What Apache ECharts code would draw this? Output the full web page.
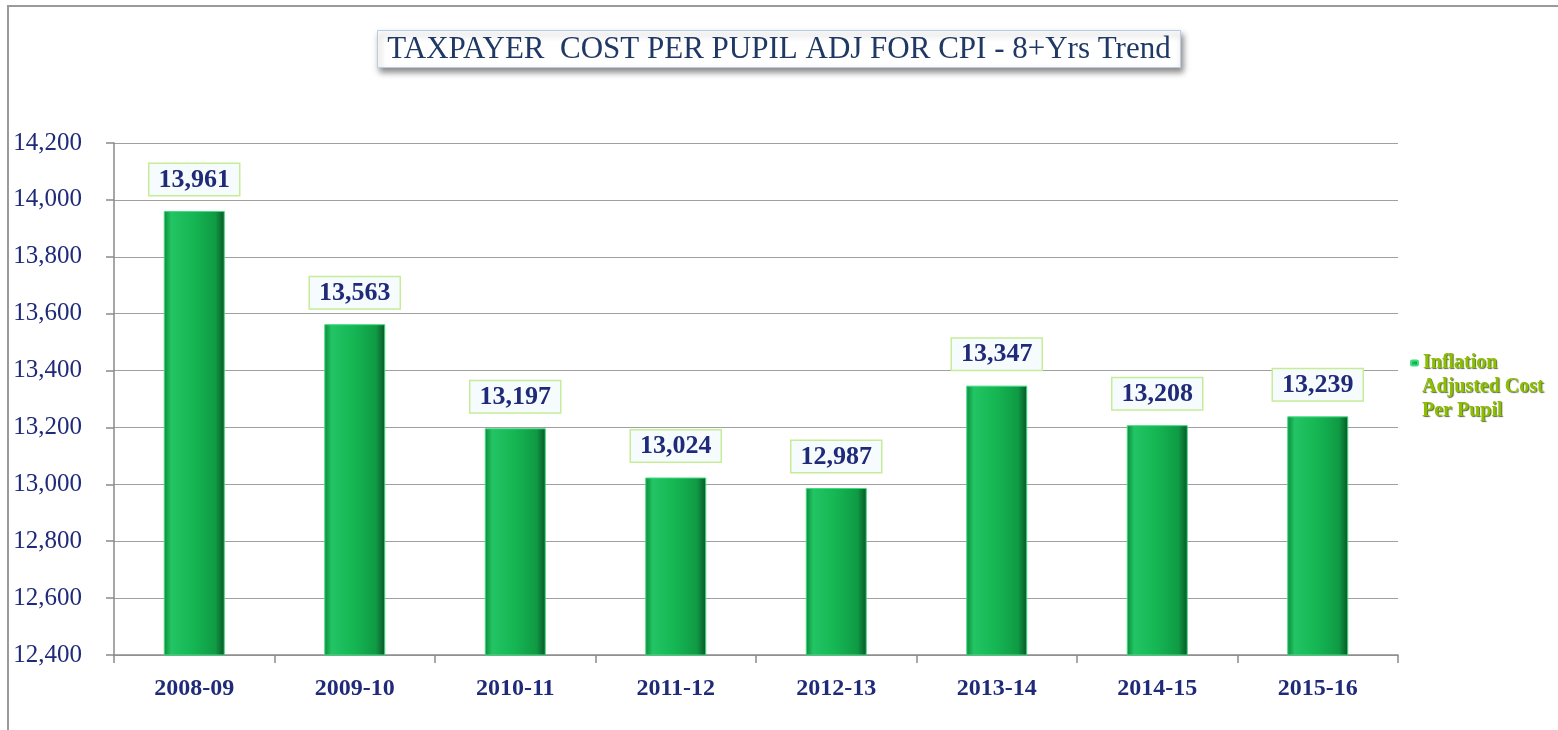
<!DOCTYPE html>
<html lang="en">
<head>
    <meta charset="UTF-8">
    <title>Taxpayer cost per pupil</title>
    <script type="text/javascript" src="https://cdn.jsdelivr.net/npm/echarts@6.0.0/dist/echarts.min.js"></script>
    <style>
        html, body { margin: 0; padding: 0; background: #fff; }
    </style>
</head>
<body>
<div id="main" style="width: 1558px;height:730px;"></div>

<script type="text/javascript">
    // data
    var years = ['2008-09', '2009-10', '2010-11', '2011-12', '2012-13', '2013-14', '2014-15', '2015-16'];
    var costPerPupil = [13961, 13563, 13197, 13024, 12987, 13347, 13208, 13239];
    var seriesName = 'Inflation Adjusted Cost Per Pupil';

    var navy = '#1f2a78';
    var serif = '"Liberation Serif", "DejaVu Serif", serif';
    var legendGreen = '#8cbf00';
    var legendShadow = 'rgba(40,60,0,0.75)';

    var myChart = echarts.init(document.getElementById('main'));

    var option = {
        backgroundColor: '#fff',
        animation: false,
        graphic: [{
            // outer frame, only top and left edges show
            type: 'rect',
            shape: {x: 8, y: 6, width: 1600, height: 800},
            style: {fill: 'none', stroke: '#9a9a9a', lineWidth: 2}
        }, {
            // rest of the legend label, icon sits on the first line
            type: 'text',
            left: 1422,
            top: 375,
            style: {
                text: 'Adjusted Cost\nPer Pupil',
                fill: legendGreen,
                font: 'bold 20px ' + serif,
                lineHeight: 24,
                textShadowColor: legendShadow,
                textShadowBlur: 1,
                textShadowOffsetX: 1,
                textShadowOffsetY: 1
            }
        }],
        title: {
            text: 'TAXPAYER  COST PER PUPIL ADJ FOR CPI - 8+Yrs Trend',
            left: 'center',
            top: 30,
            padding: [4, 10, 3, 10],
            backgroundColor: '#fff',
            borderColor: '#b8cce4',
            borderWidth: 1,
            shadowColor: 'rgba(0,0,0,0.45)',
            shadowBlur: 6,
            shadowOffsetX: 2,
            shadowOffsetY: 4,
            textStyle: {
                fontFamily: serif,
                fontSize: 31,
                fontWeight: 'normal',
                color: '#1f3864'
            }
        },
        legend: {
            orient: 'vertical',
            left: 1405,
            top: 348,
            itemWidth: 7,
            itemHeight: 5,
            itemGap: 5,
            data: [seriesName],
            formatter: function () { return 'Inflation'; },
            textStyle: {
                fontFamily: serif,
                fontSize: 20,
                fontWeight: 'bold',
                color: legendGreen,
                textShadowColor: legendShadow,
                textShadowBlur: 1,
                textShadowOffsetX: 1,
                textShadowOffsetY: 1
            }
        },
        grid: {
            left: 114,
            right: 160,
            top: 143,
            bottom: 75
        },
        xAxis: {
            type: 'category',
            data: years,
            axisLine: {lineStyle: {color: '#8a8a8a', width: 1.5}},
            axisTick: {show: true, length: 8, lineStyle: {color: '#8a8a8a', width: 1.5}},
            axisLabel: {
                margin: 22,
                fontFamily: serif,
                fontSize: 24,
                fontWeight: 'bold',
                color: navy
            }
        },
        yAxis: {
            type: 'value',
            min: 12400,
            max: 14200,
            interval: 200,
            axisLine: {show: true, lineStyle: {color: '#8a8a8a', width: 1.5}},
            axisTick: {show: true, length: 8, lineStyle: {color: '#8a8a8a', width: 1.5}},
            splitLine: {lineStyle: {color: '#a0a0a0', width: 1}},
            axisLabel: {
                margin: 32,
                fontFamily: serif,
                fontSize: 25,
                color: navy,
                formatter: function (v) { return v.toLocaleString('en-US'); }
            }
        },
        series: [{
            name: seriesName,
            type: 'bar',
            data: costPerPupil,
            barWidth: 61,
            itemStyle: {
                color: new echarts.graphic.LinearGradient(0, 0, 1, 0, [
                    {offset: 0, color: '#0d8a3c'},
                    {offset: 0.12, color: '#22c463'},
                    {offset: 0.5, color: '#15b553'},
                    {offset: 0.85, color: '#0f9a43'},
                    {offset: 1, color: '#0a5528'}
                ]),
                borderColor: '#40dc80',
                borderWidth: 1
            },
            label: {
                show: true,
                position: 'top',
                distance: 16,
                fontFamily: serif,
                fontSize: 26,
                fontWeight: 'bold',
                color: navy,
                backgroundColor: '#f6fbfd',
                borderColor: '#c6ec98',
                borderWidth: 1.5,
                padding: [3, 9, 2, 9],
                formatter: function (p) { return p.value.toLocaleString('en-US'); }
            }
        }]
    };

    myChart.setOption(option);
</script>
</body>
</html>
